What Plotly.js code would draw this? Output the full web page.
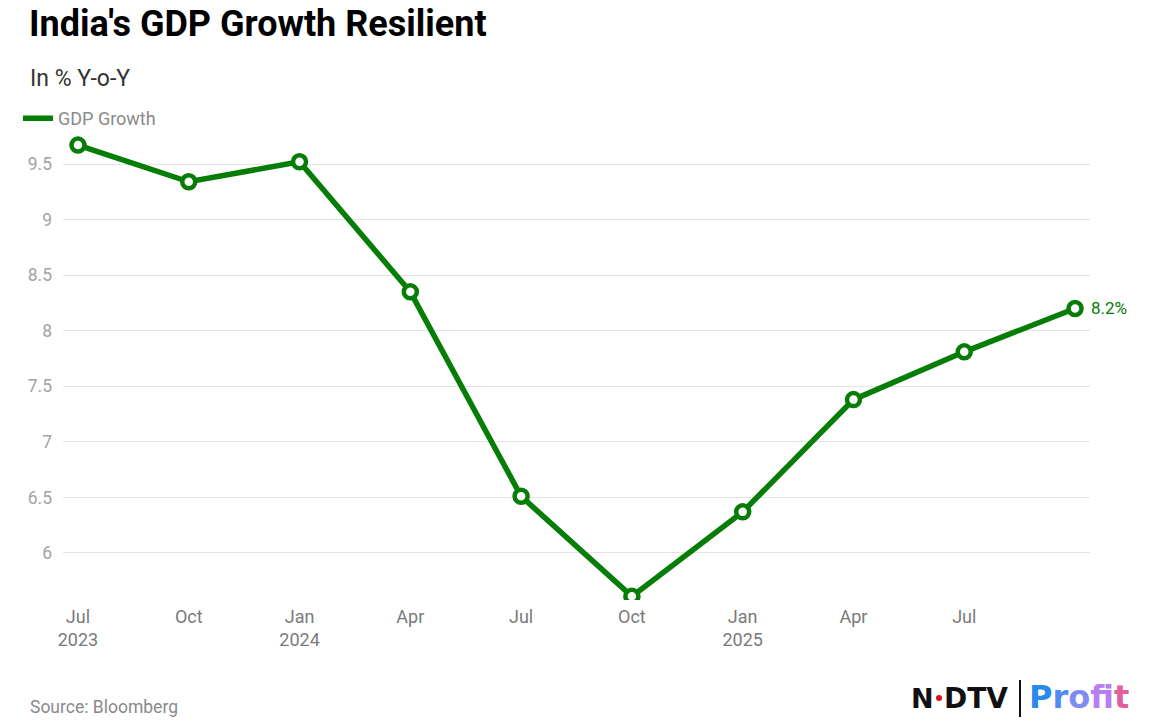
<!DOCTYPE html>
<html>
<head>
<meta charset="utf-8">
<script src="https://cdn.plot.ly/plotly-3.0.1.min.js"></script>
<style>html,body{margin:0;padding:0;background:#fff;}#chart{width:1152px;height:723px;}</style>
</head>
<body>
<div id="chart"></div>
<script>
const categories = ["Jul 2023","Oct 2023","Jan 2024","Apr 2024","Jul 2024","Oct 2024","Jan 2025","Apr 2025","Jul 2025","Oct 2025"];
const gdpGrowth = [9.67, 9.34, 9.52, 8.35, 6.51, 5.61, 6.37, 7.38, 7.81, 8.2];
const tickVals = ["Jul 2023","Oct 2023","Jan 2024","Apr 2024","Jul 2024","Oct 2024","Jan 2025","Apr 2025","Jul 2025"];
const tickText = ["Jul<br>2023","Oct","Jan<br>2024","Apr","Jul","Oct","Jan<br>2025","Apr","Jul"];
const yTicks = [6, 6.5, 7, 7.5, 8, 8.5, 9, 9.5];
const yTickText = ["6","6.5","7","7.5","8","8.5","9","9.5"];

const green = "#067d06";
const font = "Roboto, 'Noto Sans', sans-serif";
const logoFont = "'DejaVu Sans', sans-serif";

const traces = [
  {x: categories, y: gdpGrowth, type: "scatter", mode: "lines", name: "GDP Growth",
   line: {color: green, width: 5.5}, showlegend: true, hoverinfo: "skip"},
  {x: categories, y: gdpGrowth, type: "scatter", mode: "markers", name: "GDP Growth",
   marker: {symbol: "circle", size: 13, color: "#ffffff", line: {color: green, width: 4.5}},
   showlegend: false}
];

const lastIdx = gdpGrowth.length - 1;

const layout = {
  width: 1152, height: 723,
  margin: {l: 63, r: 62, t: 130, b: 123},
  paper_bgcolor: "#ffffff", plot_bgcolor: "#ffffff",
  font: {family: font},
  title: {text: "<b>India's GDP Growth Resilient</b>", x: 29/1152, xanchor: "left", xref: "container",
          y: 1 - 11/723, yanchor: "top", yref: "container",
          font: {family: font, size: 36, color: "#000000"}},
  xaxis: {type: "category", range: [-0.135, 9.135], tickmode: "array", tickvals: tickVals, ticktext: tickText,
          showgrid: false, zeroline: false, showline: false, ticks: "", ticklabelstandoff: 4,
          tickfont: {family: font, size: 18, color: "#7a7a7a"}, fixedrange: true},
  yaxis: {range: [5.577, 9.806], tickmode: "array", tickvals: yTicks, ticktext: yTickText,
          showgrid: true, gridcolor: "#e3e3e3", gridwidth: 1, zeroline: false, showline: false, ticks: "",
          ticklabelstandoff: 10,
          tickfont: {family: font, size: 17.5, color: "#a3a3a3"}, fixedrange: true},
  showlegend: true,
  legend: {orientation: "h", x: (18 - 63) / 1027, xref: "paper", xanchor: "left", y: 0.985, yanchor: "bottom",
           font: {family: font, size: 18, color: "#8a8a8a"}, bgcolor: "rgba(0,0,0,0)"},
  annotations: [
    {text: "In % Y-o-Y", xref: "paper", yref: "paper", x: 0, y: 1, xanchor: "left", yanchor: "middle",
     xshift: -35, yshift: 52, showarrow: false, font: {family: font, size: 23, color: "#333333"}},
    {text: gdpGrowth[lastIdx] + "%", xref: "x", yref: "y", x: categories[lastIdx], y: gdpGrowth[lastIdx],
     xanchor: "left", yanchor: "middle", xshift: 14, showarrow: false,
     font: {family: font, size: 17, color: green}},
    {text: "Source: Bloomberg", xref: "paper", yref: "paper", x: 0, y: 0, xanchor: "left", yanchor: "middle",
     xshift: -35, yshift: -107, showarrow: false, font: {family: font, size: 17.5, color: "#8a8a8a"}},
    {text: "<b>N</b>", xref: "paper", yref: "paper", x: 1, y: 0, xanchor: "right", yanchor: "middle",
     xshift: -154, yshift: -98, showarrow: false, font: {family: logoFont, size: 27, color: "#111111"}},
    {text: "<b>DTV</b>", xref: "paper", yref: "paper", x: 1, y: 0, xanchor: "left", yanchor: "middle",
     xshift: -148, yshift: -98, showarrow: false, font: {family: logoFont, size: 28, color: "#111111"}},
    {text: "<b><span style='color:#2a8ae8'>P</span><span style='color:#4f8cf0'>r</span><span style='color:#7f8df2'>o</span><span style='color:#b77ff0'>f</span><span style='color:#e070dc'>i</span><span style='color:#e0609c'>t</span></b>",
     xref: "paper", yref: "paper", x: 1, y: 0, xanchor: "left", yanchor: "middle",
     xshift: -63, yshift: -97, showarrow: false, font: {family: logoFont, size: 32, color: "#5a8cf0"}}
  ],
  shapes: [
    {type: "line", xref: "paper", yref: "paper",
     xsizemode: "pixel", ysizemode: "pixel", xanchor: 1, yanchor: 0,
     x0: -70, x1: -70, y0: -80, y1: -117, line: {color: "#111111", width: 2}},
    {type: "circle", xref: "paper", yref: "paper",
     xsizemode: "pixel", ysizemode: "pixel", xanchor: 1, yanchor: 0,
     x0: -154, x1: -148, y0: -95, y1: -101, fillcolor: "#e01010", line: {width: 0}}
  ]
};

Plotly.newPlot("chart", traces, layout, {displayModeBar: false, staticPlot: true});
</script>
</body>
</html>
